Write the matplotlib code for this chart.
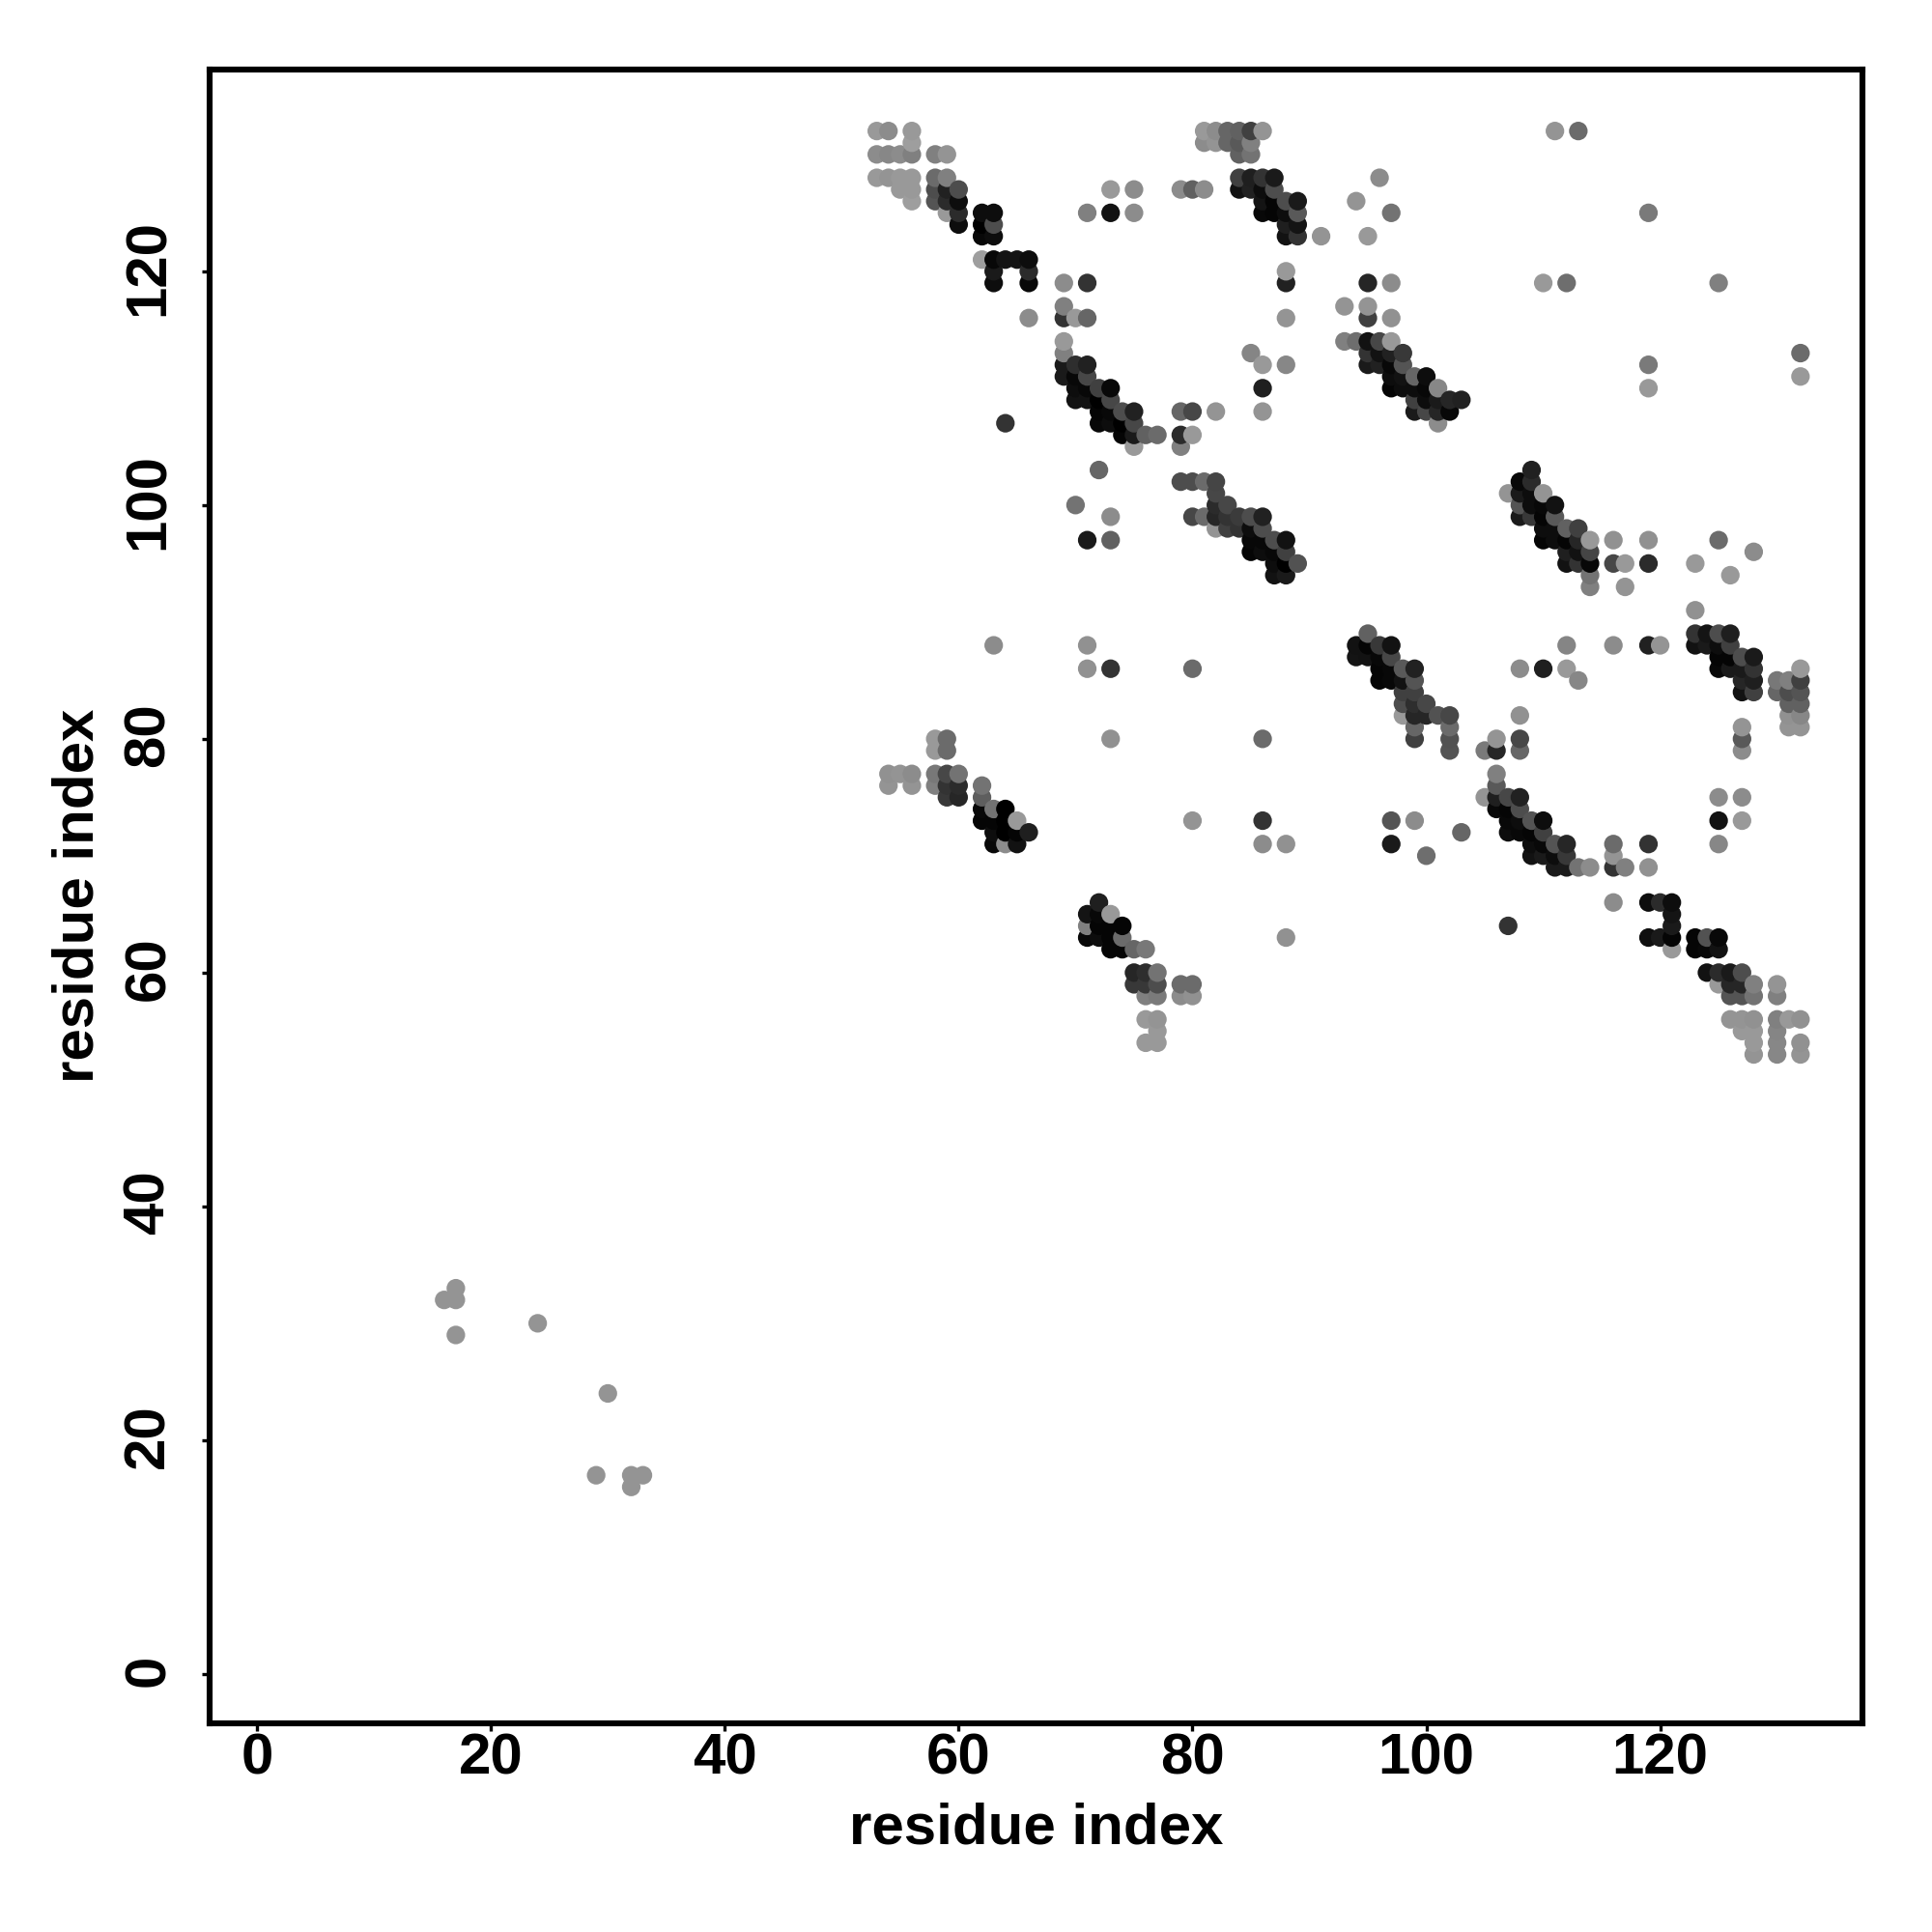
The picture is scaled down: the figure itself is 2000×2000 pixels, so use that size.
import matplotlib
matplotlib.use("Agg")
import matplotlib.pyplot as plt
from matplotlib.transforms import ScaledTranslation
import numpy as np

plt.rcParams['font.family'] = ['Liberation Sans', 'DejaVu Sans']

tick_values = [0, 20, 40, 60, 80, 100, 120]
x_label = "residue index"
y_label = "residue index"

# every row: (residue on x, grey level of the contact)
y132 = ([53,54,56,81,82,83,84,85,86,111,113], [.6,.55,.6,.6,.55,.4,.38,.25,.58,.58,.42])
y131 = ([56,81,82,83,84,85], [.62,.55,.58,.4,.35,.5])
y130 = ([53,54,55,56,58,59,84,85], [.55,.53,.55,.5,.5,.58,.38,.45])
y128 = ([53,54,55,56,58,59,84,85,86,87,96], [.6,.58,.6,.6,.42,.5,.25,.12,.2,.1,.55])
y127 = ([55,56,58,59,60,73,75,79,80,81,84,85,86,87], [.6,.6,.3,.13,.3,.6,.55,.55,.38,.55,.07,.13,.05,.3])
y126 = ([56,58,59,60,86,87,88,89,94], [.62,.33,.17,.05,.08,.02,.3,.1,.58])
y125 = ([59,60,62,63,71,73,75,86,87,88,89,97,119], [.6,.17,.05,.05,.5,.07,.55,.03,.02,.05,.35,.45,.48])
y124 = ([60,62,63,88,89], [.05,.0,.3,.12,.08])
y123 = ([62,63,88,89,91,95], [.03,.05,.07,.2,.58,.6])
y121 = ([62,63,64,65,66], [.62,.03,.08,.08,.05])
y120 = ([63,66,88], [.1,.17,.6])
y119 = ([63,66,69,71,88,95,97,110,112,125], [.05,.03,.55,.2,.13,.15,.55,.6,.43,.5])
y117 = ([69,93,95], [.5,.58,.58])
y116 = ([66,69,70,71,88,95,97], [.55,.2,.6,.4,.58,.25,.57])
y114 = ([69,93,94,95,96,97], [.6,.5,.43,.07,.28,.6])
y113 = ([69,85,95,96,97,98,132], [.5,.52,.2,.07,.13,.22,.42])
y112 = ([69,70,71,86,88,95,96,97,98,119], [.1,.18,.13,.6,.53,.1,.13,.03,.33,.48])
y111 = ([69,70,71,97,98,99,100,132], [.1,.03,.28,.05,.07,.4,.05,.6])
y110 = ([70,71,72,73,86,97,98,99,100,101,119], [.05,.03,.25,.03,.12,.02,.05,.05,.03,.53,.6])
y109 = ([70,71,72,73,99,100,101,102,103], [.07,.07,.0,.28,.25,.05,.1,.15,.13])
y108 = ([72,73,74,75,79,80,82,86,99,100,101,102], [.02,.03,.3,.13,.4,.28,.58,.58,.1,.28,.15,.03])
y107 = ([64,72,73,74,75,101], [.2,.03,.05,.0,.28,.55])
y106 = ([74,75,76,77,79,80], [.02,.1,.38,.42,.17,.6])
y105 = ([75,79], [.6,.5])
y103 = ([72,109], [.4,.13])
y102 = ([79,80,81,82,108,109], [.3,.3,.42,.27,.03,.17])
y101 = ([82,107,108,109,110], [.28,.58,.1,.05,.58])
y100 = ([70,82,83,108,109,110,111], [.45,.17,.28,.33,.05,.03,.07])
y99 = ([73,80,81,82,83,84,85,86,108,109,110,111], [.55,.28,.42,.15,.2,.23,.3,.13,.1,.22,.02,.35])
y98 = ([82,83,84,85,86,110,111,112,113], [.58,.25,.2,.05,.3,.05,.05,.38,.25])
y97 = ([71,73,85,86,87,88,110,111,112,113,114,116,119,125], [.1,.38,.03,.03,.3,.07,.02,.05,.02,.15,.6,.57,.57,.42])
y96 = ([85,86,87,88,112,113,114,128], [.02,.05,.03,.25,.12,.07,.27,.55])
y95 = ([87,88,89,112,113,114,116,117,119,123], [.05,.0,.32,.07,.2,.03,.28,.6,.17,.6])
y94 = ([87,88,114,126], [.07,.1,.45,.6])
y93 = ([114,117], [.5,.58])
y91 = ([123], [.57])
y89 = ([95,123,124,125,126], [.38,.2,.08,.3,.12])
y88 = ([63,71,94,95,96,97,112,116,119,120,123,124,125,126], [.55,.57,.07,.02,.22,.07,.52,.55,.13,.58,.07,.1,.05,.25])
y87 = ([94,95,96,97,125,126,127,128], [.08,.07,.03,.28,.02,.02,.3,.1])
y86 = ([71,73,80,96,97,98,99,108,110,112,125,126,127,128,132], [.57,.2,.42,.02,.03,.35,.13,.55,.12,.6,.03,.1,.1,.2,.6])
y85 = ([96,97,98,99,113,127,128,130,131,132], [.02,.03,.07,.33,.53,.15,.12,.47,.5,.25])
y84 = ([98,99,127,128,130,131,132], [.25,.25,.07,.25,.4,.3,.33])
y83 = ([98,99,100,131,132], [.3,.18,.28,.38,.38])
y82 = ([98,99,100,101,102,108,131,132], [.6,.15,.15,.32,.28,.57,.57,.53])
y81 = ([99,102,127,131,132], [.4,.42,.58,.58,.58])
y80 = ([58,59,73,86,99,102,106,108,127], [.6,.42,.57,.42,.25,.32,.58,.28,.35])
y79 = ([58,59,102,105,106,108,127], [.6,.42,.33,.48,.15,.4,.55])
y77 = ([54,55,56,58,59,60,106], [.57,.58,.55,.47,.28,.45,.5])
y76 = ([54,56,58,59,60,62,106], [.58,.58,.5,.2,.17,.45,.35])
y75 = ([59,60,62,105,106,107,108,125,127], [.22,.15,.37,.58,.12,.28,.13,.55,.55])
y74 = ([62,63,64,106,107,108], [.03,.45,.0,.03,.02,.3])
y73 = ([62,63,64,65,80,86,97,99,107,108,109,110,125,127], [.02,.02,.0,.6,.58,.2,.33,.55,.03,.05,.33,.05,.07,.6])
y72 = ([63,64,65,66,103,107,108,109,110], [.05,.0,.02,.12,.4,.05,.03,.02,.25])
y71 = ([63,64,65,86,88,97,109,110,111,112,116,119,125], [.03,.55,.07,.55,.57,.1,.05,.03,.33,.15,.42,.2,.53])
y70 = ([100,109,110,111,112,116], [.43,.07,.1,.05,.22,.58])
y69 = ([111,112,113,114,116,117,119], [.1,.1,.45,.55,.2,.5,.57])
y66 = ([72,116,119,120,121], [.12,.55,.05,.17,.05])
y65 = ([71,72,73,121], [.08,.03,.6,.08])
y64 = ([71,72,73,74,107,121], [.5,.02,.02,.02,.2,.1])
y63 = ([71,72,73,74,88,119,120,121,123,124,125], [.03,.05,.02,.42,.57,.06,.1,.02,.02,.32,.03])
y62 = ([73,74,75,76,121,123,124,125], [.02,.02,.4,.47,.6,.02,.03,.07])
y60 = ([75,76,77,124,125,126,127], [.15,.18,.45,.07,.17,.1,.3])
y59 = ([75,76,77,79,80,125,126,127,128,130], [.22,.22,.3,.42,.42,.6,.15,.15,.5,.58])
y58 = ([76,77,79,80,126,127,128,130], [.5,.48,.55,.57,.33,.33,.45,.5])
y56 = ([76,77,126,127,128,130,131,132], [.6,.58,.58,.58,.57,.5,.6,.57])
y55 = ([77,127,128,130], [.6,.6,.6,.52])
y54 = ([76,77,128,130,132], [.6,.6,.6,.53,.57])
y53 = ([128,130,132], [.58,.53,.58])
y33 = ([17], [.58])
y32 = ([16,17], [.58,.58])
y30 = ([24], [.58])
y29 = ([17], [.58])
y24 = ([30], [.58])
y17 = ([29,32,33], [.58,.58,.58])
y16 = ([32], [.58])

row_values = [132,131,130,128,127,126,125,124,123,121,120,119,117,116,114,113,112,111,110,109,
              108,107,106,105,103,102,101,100,99,98,97,96,95,94,93,91,89,88,87,86,85,84,83,82,
              81,80,79,77,76,75,74,73,72,71,70,69,66,65,64,63,62,60,59,58,56,55,54,53,33,32,30,
              29,24,17,16]
row_data = [y132,y131,y130,y128,y127,y126,y125,y124,y123,y121,y120,y119,y117,y116,y114,y113,y112,y111,y110,y109,
            y108,y107,y106,y105,y103,y102,y101,y100,y99,y98,y97,y96,y95,y94,y93,y91,y89,y88,y87,y86,y85,y84,y83,y82,
            y81,y80,y79,y77,y76,y75,y74,y73,y72,y71,y70,y69,y66,y65,y64,y63,y62,y60,y59,y58,y56,y55,y54,y53,y33,y32,y30,
            y29,y24,y17,y16]

xs = np.concatenate([np.array(r[0], float) for r in row_data])
ys = np.concatenate([np.full(len(r[0]), v, float) for v, r in zip(row_values, row_data)])
grey = np.concatenate([np.array(r[1], float) for r in row_data])

# drawn in residue order, as a nested loop over the matrix would
order = np.lexsort((ys, xs))

fig = plt.figure(figsize=(10, 10), dpi=200)
ax = fig.add_axes([216.5/2000, 1 - 1783.7/2000, (1928-216.5)/2000, (1783.7-71.5)/2000])
ax.scatter(xs[order], ys[order], s=48, c=[str(g) for g in grey[order]], linewidths=0, zorder=3)

ax.set_xlim(-4.1, 137.3)
ax.set_ylim(-4.2, 137.3)
ax.set_xticks(tick_values)
ax.set_yticks(tick_values)
ax.tick_params(axis='x', length=3.0, width=1.2, labelsize=21.6, pad=0.5)
ax.tick_params(axis='y', length=3.0, width=1.2, labelsize=21.6, pad=9.5)
for lab in ax.get_xticklabels():
    lab.set_fontweight('bold')
nudge = ScaledTranslation(0, 4 / 200, fig.dpi_scale_trans)
for lab in ax.get_yticklabels():
    lab.set_fontweight('bold')
    lab.set_rotation(90)
    lab.set_verticalalignment('center')
    lab.set_transform(lab.get_transform() + nudge)
for sp in ax.spines.values():
    sp.set_linewidth(2.2)
ax.set_xlabel(x_label, fontsize=21.6, fontweight='bold', labelpad=6)
ax.set_ylabel(y_label, fontsize=21.6, fontweight='bold', labelpad=6.5)

fig.savefig("out.png", dpi=200, facecolor='white')
